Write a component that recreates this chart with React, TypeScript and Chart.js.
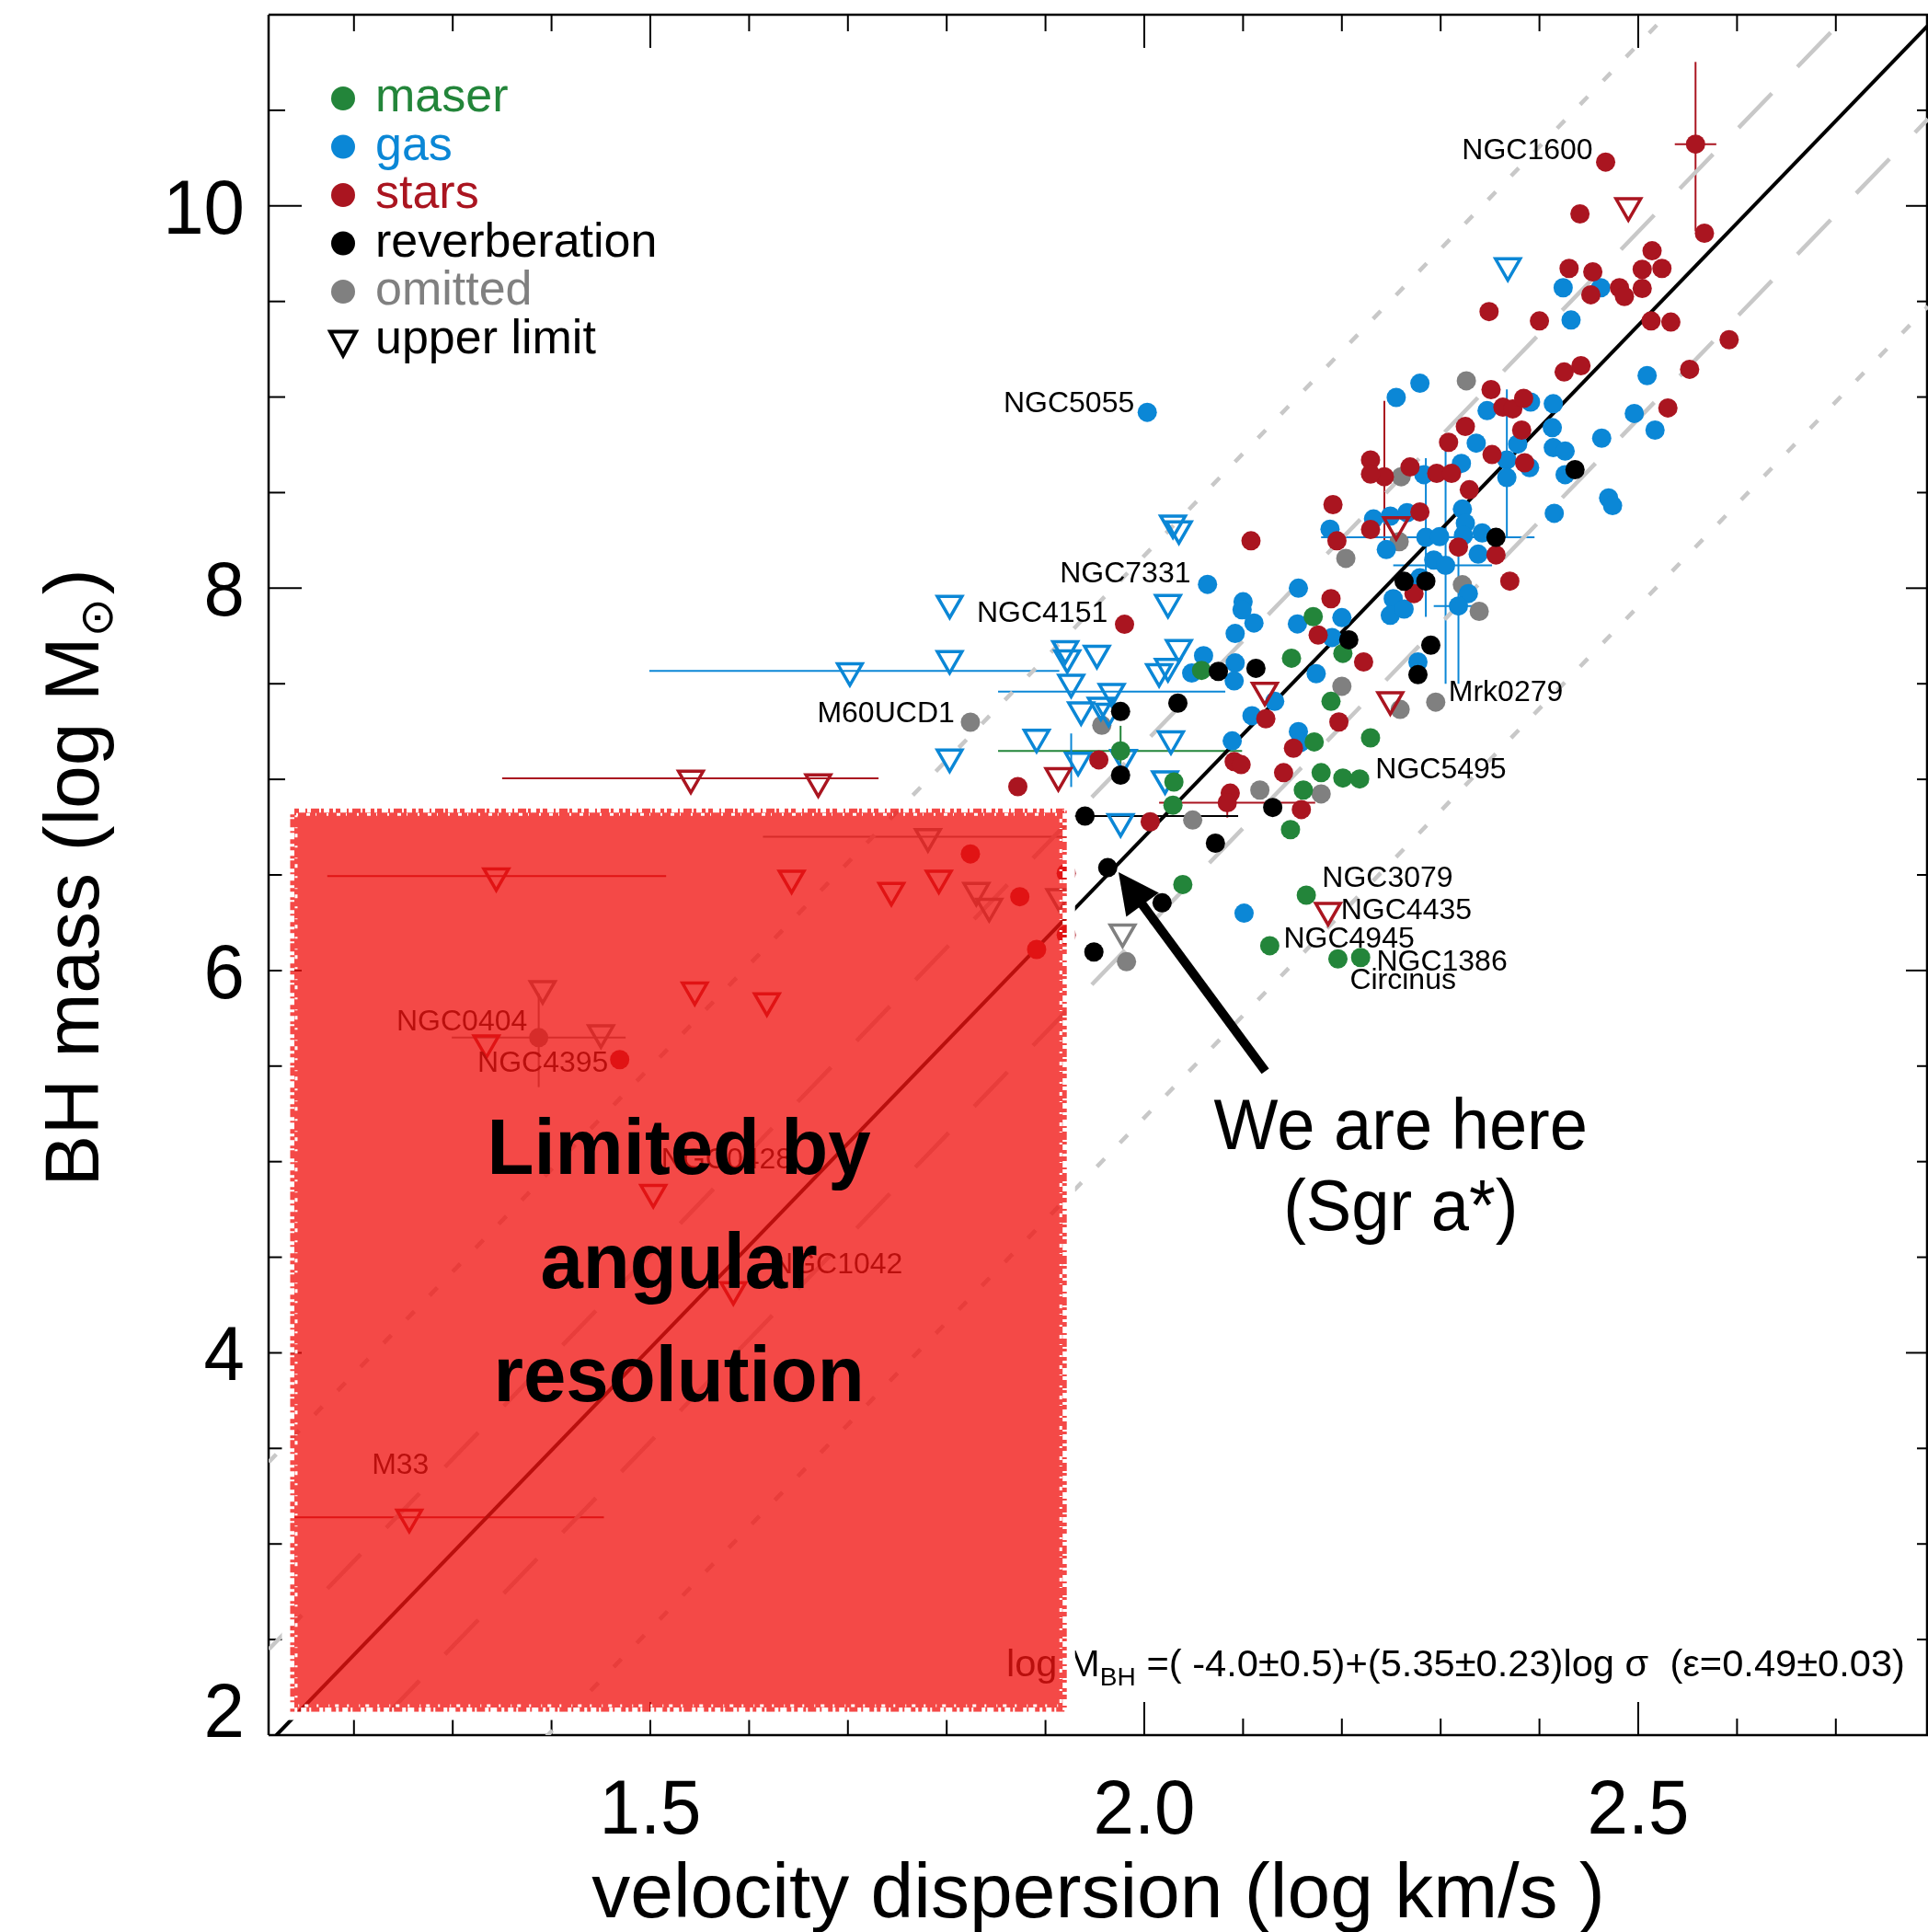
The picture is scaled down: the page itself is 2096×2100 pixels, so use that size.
import React, { useEffect, useRef } from 'react';
import { Chart, registerables } from 'chart.js';

Chart.register(...registerables);

type Pt = [number, number];

// ---------- axes ----------
const X_MIN = 1.1136;
const X_MAX = 2.7933;
const Y_MIN = 2;
const Y_MAX = 11;
const xMajorTicks = [1.5, 2.0, 2.5];
const xTickLabels = ['1.5', '2.0', '2.5'];
const xMinorTicks = [1.2, 1.3, 1.4, 1.6, 1.7, 1.8, 1.9, 2.1, 2.2, 2.3, 2.4, 2.6, 2.7];
const yMajorTicks = [2, 4, 6, 8, 10];
const yTickLabels = ['2', '4', '6', '8', '10'];
const yMinorTicks = [2.5, 3, 3.5, 4.5, 5, 5.5, 6.5, 7, 7.5, 8.5, 9, 9.5, 10.5];

// ---------- fit ----------
const fitIntercept = -4.0;
const fitSlope = 5.35;
const fitScatter = 0.49;

// ---------- data (log sigma, log M) ----------
const maser: Pt[] = [
  [2.171, 7.851], [2.201, 7.659], [2.149, 7.634], [2.058, 7.570], [2.189, 7.408],
  [2.172, 7.196], [2.229, 7.217], [2.179, 7.035], [2.201, 7.007], [2.218, 7.002],
  [2.030, 6.986], [2.029, 6.865], [2.161, 6.944], [2.148, 6.737], [1.976, 7.149],
  [2.039, 6.450], [2.164, 6.394], [2.127, 6.130], [2.196, 6.061], [2.219, 6.068],
];

const gas: Pt[] = [
  [2.424, 9.572], [2.462, 9.572], [2.432, 9.403], [2.509, 9.112], [2.255, 8.998],
  [2.279, 9.072], [2.347, 8.929], [2.391, 8.974], [2.414, 8.965], [2.496, 8.914],
  [2.517, 8.827], [2.413, 8.840], [2.336, 8.759], [2.463, 8.785], [2.378, 8.754],
  [2.367, 8.671], [2.390, 8.631], [2.414, 8.735], [2.426, 8.717], [2.426, 8.594],
  [2.470, 8.472], [2.474, 8.432], [2.415, 8.392], [2.367, 8.579], [2.283, 8.594],
  [2.232, 8.362], [2.249, 8.377], [2.266, 8.395], [2.322, 8.414], [2.325, 8.340],
  [2.323, 8.276], [2.342, 8.289], [2.285, 8.266], [2.299, 8.270], [2.245, 8.202],
  [2.293, 8.147], [2.305, 8.119], [2.338, 8.178], [2.279, 8.055], [2.252, 7.945],
  [2.328, 7.972], [2.321, 8.653], [2.188, 8.309], [2.064, 8.020], [2.156, 8.000],
  [2.100, 7.929], [2.099, 7.887], [2.111, 7.818], [2.092, 7.763], [2.155, 7.813],
  [2.200, 7.846], [2.190, 7.742], [2.060, 7.647], [2.048, 7.556], [2.092, 7.609],
  [2.091, 7.515], [2.132, 7.408], [2.109, 7.333], [2.174, 7.553], [2.156, 7.250],
  [2.158, 7.193], [2.089, 7.201], [2.249, 7.858], [2.263, 7.891], [2.318, 7.907],
  [2.277, 7.614], [2.101, 6.300], [2.003, 8.920],
];

const stars: Pt[] = [
  [2.558, 10.323], [2.567, 9.857], [2.467, 10.229], [2.441, 9.958], [2.514, 9.765],
  [2.430, 9.673], [2.454, 9.655], [2.504, 9.668], [2.524, 9.673], [2.452, 9.535],
  [2.481, 9.572], [2.486, 9.526], [2.504, 9.568], [2.349, 9.447], [2.400, 9.398],
  [2.513, 9.398], [2.533, 9.392], [2.592, 9.300], [2.425, 9.131], [2.442, 9.164],
  [2.552, 9.145], [2.351, 9.039], [2.363, 8.947], [2.373, 8.938], [2.384, 8.993],
  [2.530, 8.943], [2.382, 8.827], [2.325, 8.846], [2.308, 8.763], [2.352, 8.699],
  [2.385, 8.656], [2.243, 8.583], [2.269, 8.634], [2.296, 8.601], [2.311, 8.601],
  [2.329, 8.515], [2.279, 8.399], [2.229, 8.307], [2.229, 8.671], [2.229, 8.597],
  [2.318, 8.215], [2.356, 8.174], [2.370, 8.037], [2.273, 7.972], [2.108, 8.248],
  [2.191, 8.437], [2.195, 8.248], [2.189, 7.945], [2.176, 7.755], [2.222, 7.614],
  [2.123, 7.317], [2.197, 7.300], [2.151, 7.163], [2.091, 7.093], [2.098, 7.077],
  [2.141, 7.035], [2.087, 6.928], [2.084, 6.878], [2.159, 6.842], [1.980, 7.811],
  [1.954, 7.102], [1.872, 6.962], [2.006, 6.778], [1.824, 6.610], [1.874, 6.386],
  [1.921, 6.186], [1.891, 6.110], [1.469, 5.534], [1.921, 6.509],
];

const reverberation: Pt[] = [
  [2.356, 8.266], [2.263, 8.036], [2.285, 8.037], [2.207, 7.730], [2.290, 7.702],
  [2.277, 7.548], [2.075, 7.565], [2.113, 7.581], [2.034, 7.399], [1.976, 7.355],
  [1.976, 7.022], [2.130, 6.853], [2.072, 6.666], [1.940, 6.808], [1.963, 6.538],
  [2.018, 6.354], [1.949, 6.097], [2.436, 8.620],
];

const omitted: Pt[] = [
  [2.326, 9.085], [2.260, 8.583], [2.258, 8.243], [2.204, 8.156], [2.322, 8.018],
  [2.339, 7.879], [2.200, 7.487], [2.259, 7.366], [2.295, 7.404], [2.117, 6.944],
  [2.179, 6.924], [2.049, 6.787], [1.957, 7.283], [1.824, 7.299], [1.982, 6.046],
  [1.387, 5.649],
];

const gasLimits: Pt[] = [
  [2.368, 9.686], [2.029, 8.340], [2.035, 8.310], [2.024, 7.924], [1.803, 7.920],
  [1.803, 7.631], [1.702, 7.567], [1.920, 7.683], [1.922, 7.635], [1.952, 7.659],
  [1.926, 7.507], [1.967, 7.459], [1.936, 7.363], [1.956, 7.387], [1.964, 7.355],
  [1.891, 7.219], [1.933, 7.099], [1.803, 7.116], [2.035, 7.689], [2.024, 7.590],
  [2.015, 7.563], [2.027, 7.211], [2.021, 7.002], [1.976, 6.778], [1.979, 7.114],
];

const starLimits: Pt[] = [
  [2.490, 10.000], [2.255, 8.331], [2.122, 7.465], [2.249, 7.416], [2.186, 6.314],
  [1.913, 7.018], [1.541, 7.005], [1.670, 6.986], [1.344, 6.494], [1.643, 6.482],
  [1.744, 6.418], [1.792, 6.482], [1.545, 5.897], [1.618, 5.841], [1.334, 5.620],
  [1.503, 4.838], [1.584, 4.330], [1.256, 3.139],
];

const omittedLimits: Pt[] = [
  [1.978, 6.201], [1.781, 6.700], [1.830, 6.418], [1.843, 6.335], [1.914, 6.386],
  [1.391, 5.905], [1.450, 5.673],
];

// error bars: point, x-range, y-range
const errorBars = [
  { kind: 'stars', x: 2.558, y: 10.323, xlo: 2.537, xhi: 2.579, ylo: 9.867, yhi: 10.753 },
  { kind: 'stars', x: 2.243, y: 8.583, ylo: 8.25, yhi: 8.98 },
  { kind: 'gas', x: 2.285, y: 8.266, xlo: 2.179, xhi: 2.395, ylo: 7.85, yhi: 8.68 },
  { kind: 'gas', x: 2.305, y: 8.119, xlo: 2.252, xhi: 2.352, ylo: 7.50, yhi: 8.73 },
  { kind: 'gas', x: 2.318, y: 7.907, xlo: 2.293, xhi: 2.345, ylo: 7.50, yhi: 8.31 },
  { kind: 'gas', x: 2.367, y: 8.671, ylo: 8.27, yhi: 9.04 },
  { kind: 'stars', x: 2.084, y: 6.878, xlo: 2.015, xhi: 2.173, ylo: 6.80, yhi: 6.96 },
  { kind: 'reverberation', x: 1.940, y: 6.808, xlo: 1.924, xhi: 2.095 },
  { kind: 'maser', x: 1.976, y: 7.149, xlo: 1.852, xhi: 2.099, ylo: 7.02, yhi: 7.28 },
  { kind: 'gas', x: 1.967, y: 7.459, xlo: 1.852, xhi: 2.082 },
  { kind: 'gas', x: 1.702, y: 7.567, xlo: 1.499, xhi: 1.914 },
  { kind: 'gas', x: 1.926, y: 7.099, ylo: 6.96, yhi: 7.24 },
  { kind: 'stars', x: 1.541, y: 7.005, xlo: 1.350, xhi: 1.731 },
  { kind: 'stars', x: 1.344, y: 6.494, xlo: 1.173, xhi: 1.516 },
  { kind: 'omitted', x: 1.781, y: 6.700, xlo: 1.614, xhi: 1.925 },
  { kind: 'omitted', x: 1.387, y: 5.649, xlo: 1.299, xhi: 1.475, ylo: 5.39, yhi: 5.88 },
  { kind: 'stars', x: 1.256, y: 3.139, xlo: 1.128, xhi: 1.453 },
];

const galaxyLabels = [
  { text: 'NGC1600', x: 2.454, y: 10.285, align: 'right' },
  { text: 'NGC5055', x: 1.990, y: 8.964, align: 'right' },
  { text: 'NGC7331', x: 2.047, y: 8.071, align: 'right' },
  { text: 'NGC4151', x: 1.963, y: 7.864, align: 'right' },
  { text: 'M60UCD1', x: 1.808, y: 7.342, align: 'right' },
  { text: 'Mrk0279', x: 2.308, y: 7.450, align: 'left' },
  { text: 'NGC5495', x: 2.234, y: 7.048, align: 'left' },
  { text: 'NGC3079', x: 2.180, y: 6.478, align: 'left' },
  { text: 'NGC4435', x: 2.199, y: 6.313, align: 'left' },
  { text: 'NGC4945', x: 2.141, y: 6.162, align: 'left' },
  { text: 'NGC1386', x: 2.235, y: 6.041, align: 'left' },
  { text: 'Circinus', x: 2.208, y: 5.945, align: 'left' },
  { text: 'NGC0404', x: 1.243, y: 5.727, align: 'left' },
  { text: 'NGC4395', x: 1.325, y: 5.514, align: 'left' },
  { text: 'NGC0428', x: 1.511, y: 5.006, align: 'left' },
  { text: 'NGC1042', x: 1.623, y: 4.459, align: 'left' },
  { text: 'M33', x: 1.218, y: 3.409, align: 'left' },
];

const equationPos = { x: 1.8603, y: 2.309 };
const limitBox = { x0: 1.135, x1: 1.922, y0: 2.12, y1: 6.85 };
const limitText = ['Limited by', 'angular', 'resolution'];
const limitTextPos = { x: 1.5289, y: [4.936, 4.340, 3.746] };
const arrowTail = { x: 2.1225, y: 5.473 };
const arrowTip = { x: 1.9739, y: 6.514 };
const hereText = ['We are here', '(Sgr a*)'];
const hereTextPos = { x: 2.2596, y: [5.066, 4.640] };

const COLORS: Record<string, string> = {
  maser: '#23853a',
  gas: '#0b87d6',
  stars: '#aa1520',
  reverberation: '#000000',
  omitted: '#808080',
};

const legendItems = [
  { label: 'maser', kind: 'maser', marker: 'circle' },
  { label: 'gas', kind: 'gas', marker: 'circle' },
  { label: 'stars', kind: 'stars', marker: 'circle' },
  { label: 'reverberation', kind: 'reverberation', marker: 'circle' },
  { label: 'omitted', kind: 'omitted', marker: 'circle' },
  { label: 'upper limit', kind: 'reverberation', marker: 'triangle' },
];

const FONT = '"Liberation Sans", Helvetica, Arial, sans-serif';

const toXY = (arr: Pt[]) => arr.map(([x, y]) => ({ x, y }));

function line(ctx: CanvasRenderingContext2D, x1: number, y1: number, x2: number, y2: number) {
  ctx.beginPath();
  ctx.moveTo(x1, y1);
  ctx.lineTo(x2, y2);
  ctx.stroke();
}

function scaledText(ctx: CanvasRenderingContext2D, text: string, x: number, y: number, sx: number, align: CanvasTextAlign) {
  ctx.save();
  ctx.translate(x, y);
  ctx.scale(sx, 1);
  ctx.textAlign = align;
  ctx.fillText(text, 0, 0);
  ctx.restore();
}

const axesPlugin = {
  id: 'axesFrame',
  beforeDatasetsDraw(chart: any) {
    const { ctx, chartArea: a } = chart;
    const xs = chart.scales.x;
    const ys = chart.scales.y;
    ctx.save();
    ctx.strokeStyle = '#000';
    ctx.lineWidth = 2.5;
    line(ctx, a.left, a.top, a.left, a.bottom);
    line(ctx, a.left, a.bottom, a.right, a.bottom);
    line(ctx, a.left, a.top, a.right, a.top);
    line(ctx, a.right - 1, a.top, a.right - 1, a.bottom);

    ctx.lineWidth = 2;
    const MAJ = 36, MIN = 18;
    for (const v of xMajorTicks) {
      const p = xs.getPixelForValue(v);
      line(ctx, p, a.bottom, p, a.bottom - MAJ);
      line(ctx, p, a.top, p, a.top + MAJ);
    }
    for (const v of xMinorTicks) {
      const p = xs.getPixelForValue(v);
      line(ctx, p, a.bottom, p, a.bottom - MIN);
      line(ctx, p, a.top, p, a.top + MIN);
    }
    for (const v of yMajorTicks) {
      const p = ys.getPixelForValue(v);
      line(ctx, a.left, p, a.left + MAJ, p);
      line(ctx, a.right, p, a.right - 24, p);
    }
    for (const v of yMinorTicks) {
      const p = ys.getPixelForValue(v);
      line(ctx, a.left, p, a.left + MIN, p);
      line(ctx, a.right, p, a.right - 12, p);
    }

    // error bars
    ctx.lineWidth = 2;
    for (const e of errorBars as any[]) {
      ctx.strokeStyle = COLORS[e.kind];
      const px = xs.getPixelForValue(e.x);
      const py = ys.getPixelForValue(e.y);
      if (e.xlo !== undefined) line(ctx, xs.getPixelForValue(e.xlo), py, xs.getPixelForValue(e.xhi), py);
      if (e.ylo !== undefined) line(ctx, px, ys.getPixelForValue(e.ylo), px, ys.getPixelForValue(e.yhi));
    }

    // tick labels
    ctx.fillStyle = '#000';
    ctx.font = `84px ${FONT}`;
    ctx.textBaseline = 'alphabetic';
    yMajorTicks.forEach((v, i) => {
      const p = ys.getPixelForValue(v);
      const base = Math.min(p + 30, a.bottom + 2);
      scaledText(ctx, yTickLabels[i], 266, base, 0.95, 'right');
    });
    xMajorTicks.forEach((v, i) => {
      const p = xs.getPixelForValue(v);
      scaledText(ctx, xTickLabels[i], p, 1993, 0.95, 'center');
    });

    // axis titles
    ctx.textAlign = 'center';
    ctx.fillText('velocity dispersion (log km/s )', (a.left + a.right) / 2, 2084);

    ctx.save();
    ctx.translate(107, 954);
    ctx.rotate(-Math.PI / 2);
    ctx.textAlign = 'left';
    const main = 'BH mass (log M';
    ctx.font = `84px ${FONT}`;
    const w1 = ctx.measureText(main).width;
    const wP = ctx.measureText(')').width;
    ctx.font = `50px "DejaVu Sans", ${FONT}`;
    const wSun = ctx.measureText('\u2299').width;
    const total = w1 + wSun + 4 + wP;
    let u = -total / 2;
    ctx.font = `84px ${FONT}`;
    ctx.textBaseline = 'alphabetic';
    ctx.fillText(main, u, 0);
    u += w1;
    ctx.font = `50px "DejaVu Sans", ${FONT}`;
    ctx.textBaseline = 'middle';
    ctx.fillText('\u2299', u, 2);
    u += wSun + 4;
    ctx.font = `84px ${FONT}`;
    ctx.textBaseline = 'alphabetic';
    ctx.fillText(')', u, 0);
    ctx.restore();

    ctx.restore();
  },
};

const overlayPlugin = {
  id: 'overlay',
  afterDatasetsDraw(chart: any) {
    const { ctx } = chart;
    const xs = chart.scales.x;
    const ys = chart.scales.y;
    const X = (v: number) => xs.getPixelForValue(v);
    const Y = (v: number) => ys.getPixelForValue(v);
    ctx.save();

    // galaxy labels
    ctx.fillStyle = '#000';
    ctx.font = `32px ${FONT}`;
    ctx.textBaseline = 'middle';
    for (const l of galaxyLabels) {
      ctx.textAlign = l.align as CanvasTextAlign;
      ctx.fillText(l.text, X(l.x), Y(l.y));
    }

    // fit equation
    {
      const parts: [string, number, number][] = [
        ['log M', 40, 0],
        ['BH', 27, 10],
        [' =( -4.0\u00b10.5)+(5.35\u00b10.23)log \u03c3  (\u03b5=0.49\u00b10.03)', 40, 0],
      ];
      ctx.textBaseline = 'alphabetic';
      ctx.textAlign = 'left';
      let total = 0;
      for (const [t, s] of parts) {
        ctx.font = `${s}px ${FONT}`;
        total += ctx.measureText(t).width;
      }
      const sx = 977 / total;
      ctx.save();
      ctx.translate(X(equationPos.x), Y(equationPos.y));
      ctx.scale(sx, 1);
      let cx = 0;
      for (const [t, s, dy] of parts) {
        ctx.font = `${s}px ${FONT}`;
        ctx.fillText(t, cx, dy);
        cx += ctx.measureText(t).width;
      }
      ctx.restore();
    }

    // angular-resolution box
    {
      const L = X(limitBox.x0), R = X(limitBox.x1), T = Y(limitBox.y1), B = Y(limitBox.y0);
      ctx.fillStyle = 'rgba(241,20,17,0.774)';
      ctx.fillRect(L, T, R - L, B - T);
      ctx.strokeStyle = '#ffffff';
      ctx.lineWidth = 9;
      ctx.strokeRect(L - 4, T - 4, R - L + 8, B - T + 8);
      ctx.lineWidth = 6;
      ctx.setLineDash([3, 5, 7, 2, 4, 9, 2, 3, 6, 4]);
      ctx.strokeRect(L + 2, T + 2, R - L - 4, B - T - 4);
      ctx.lineWidth = 3;
      ctx.setLineDash([2, 9, 4, 6, 1, 11]);
      ctx.strokeRect(L + 7, T + 7, R - L - 14, B - T - 14);
      ctx.setLineDash([]);

      ctx.fillStyle = '#000';
      ctx.font = `bold 86px ${FONT}`;
      ctx.textBaseline = 'alphabetic';
      limitText.forEach((t, i) => {
        scaledText(ctx, t, X(limitTextPos.x), Y(limitTextPos.y[i]), 0.97, 'center');
      });
    }

    // arrow
    {
      const tx = X(arrowTail.x), ty = Y(arrowTail.y), hx = X(arrowTip.x), hy = Y(arrowTip.y);
      const ang = Math.atan2(hy - ty, hx - tx);
      const headLen = 44, headHalf = 22;
      const bx = hx - Math.cos(ang) * headLen, by = hy - Math.sin(ang) * headLen;
      ctx.strokeStyle = '#000';
      ctx.lineWidth = 10;
      line(ctx, tx, ty, bx + Math.cos(ang) * 4, by + Math.sin(ang) * 4);
      ctx.fillStyle = '#000';
      ctx.beginPath();
      ctx.moveTo(hx, hy);
      ctx.lineTo(bx + Math.sin(ang) * headHalf, by - Math.cos(ang) * headHalf);
      ctx.lineTo(bx - Math.sin(ang) * headHalf, by + Math.cos(ang) * headHalf);
      ctx.closePath();
      ctx.fill();
    }

    // "We are here"
    ctx.fillStyle = '#000';
    ctx.font = `78px ${FONT}`;
    ctx.textBaseline = 'alphabetic';
    hereText.forEach((t, i) => {
      scaledText(ctx, t, X(hereTextPos.x), Y(hereTextPos.y[i]), 0.95, 'center');
    });

    // legend
    ctx.font = `52px ${FONT}`;
    ctx.textAlign = 'left';
    ctx.textBaseline = 'alphabetic';
    legendItems.forEach((it, i) => {
      const cy = 107 + i * 52.5;
      const col = COLORS[it.kind];
      if (it.marker === 'circle') {
        ctx.fillStyle = col;
        ctx.beginPath();
        ctx.arc(373, cy, 13, 0, Math.PI * 2);
        ctx.fill();
      } else {
        ctx.strokeStyle = col;
        ctx.lineWidth = 4;
        ctx.beginPath();
        ctx.moveTo(359, cy - 9);
        ctx.lineTo(387, cy - 9);
        ctx.lineTo(373, cy + 17);
        ctx.closePath();
        ctx.stroke();
      }
      ctx.fillStyle = col;
      ctx.fillText(it.label, 408, cy + 14);
    });

    ctx.restore();
  },
};

export default function App() {
  const ref = useRef<HTMLCanvasElement>(null);
  useEffect(() => {
    document.body.style.margin = '0';
    const canvas = ref.current!;
    const lineData = (off: number) =>
      [X_MIN, X_MAX].map((x) => ({ x, y: fitIntercept + fitSlope * x + off }));

    const circleDs = (label: string, data: Pt[], kind: string, order: number) => ({
      label,
      data: toXY(data),
      showLine: false,
      order,
      pointStyle: 'circle',
      pointRadius: 10.5,
      pointHoverRadius: 10.5,
      pointBackgroundColor: COLORS[kind],
      pointBorderColor: COLORS[kind],
      pointBorderWidth: 0,
      backgroundColor: COLORS[kind],
      borderColor: COLORS[kind],
    });
    const triDs = (label: string, data: Pt[], kind: string, order: number) => ({
      label,
      data: toXY(data),
      showLine: false,
      order,
      pointStyle: 'triangle',
      pointRotation: 180,
      pointRadius: 15.5,
      pointHoverRadius: 15.5,
      pointBackgroundColor: 'rgba(0,0,0,0)',
      pointBorderColor: COLORS[kind],
      pointBorderWidth: 3.5,
      backgroundColor: 'rgba(0,0,0,0)',
      borderColor: COLORS[kind],
    });
    const lineDs = (label: string, off: number, color: string, width: number, dash: number[]) => ({
      label,
      data: lineData(off),
      showLine: true,
      order: 50,
      pointRadius: 0,
      borderColor: color,
      borderWidth: width,
      borderDash: dash,
      fill: false,
      clip: 0,
    });

    const chart = new Chart(canvas, {
      type: 'scatter',
      data: {
        datasets: [
          lineDs('+3e', 3 * fitScatter, '#c8c8c8', 4.5, [12, 24]),
          lineDs('-3e', -3 * fitScatter, '#c8c8c8', 4.5, [12, 24]),
          lineDs('+e', fitScatter, '#c8c8c8', 4.5, [52, 40]),
          lineDs('-e', -fitScatter, '#c8c8c8', 4.5, [52, 40]),
          lineDs('fit', 0, '#000000', 4, []),
          circleDs('omitted', omitted, 'omitted', 9),
          triDs('omitted limits', omittedLimits, 'omitted', 8),
          circleDs('gas', gas, 'gas', 7),
          triDs('gas limits', gasLimits, 'gas', 6),
          circleDs('stars', stars, 'stars', 5),
          triDs('star limits', starLimits, 'stars', 4),
          circleDs('maser', maser, 'maser', 3),
          circleDs('reverberation', reverberation, 'reverberation', 2),
        ] as any,
      },
      options: {
        responsive: false,
        maintainAspectRatio: false,
        animation: false,
        devicePixelRatio: 1,
        events: [],
        layout: { autoPadding: false, padding: { left: 292, right: 0, top: 16, bottom: 214 } },
        scales: {
          x: { type: 'linear', min: X_MIN, max: X_MAX, display: false },
          y: { type: 'linear', min: Y_MIN, max: Y_MAX, display: false },
        },
        plugins: {
          legend: { display: false },
          tooltip: { enabled: false },
        },
      } as any,
      plugins: [axesPlugin, overlayPlugin],
    });
    return () => chart.destroy();
  }, []);
  return <canvas ref={ref} width={2096} height={2100} style={{ display: 'block' }} />;
}
